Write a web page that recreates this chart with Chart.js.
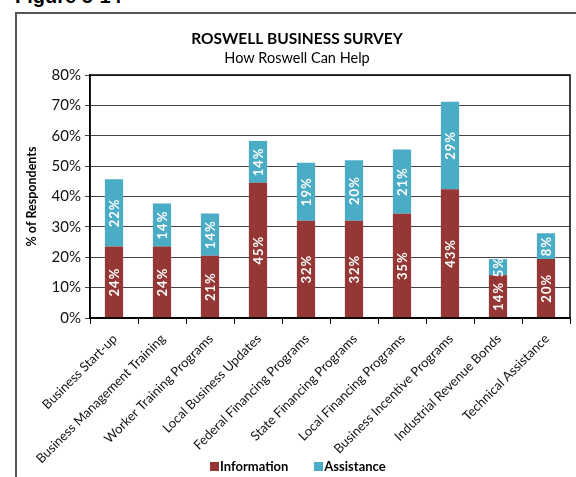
<!DOCTYPE html>
<html>
<head>
<meta charset="utf-8">
<script src="https://cdn.jsdelivr.net/npm/chart.js@4"></script>
<style>
  html, body { margin: 0; padding: 0; background: #fff; }
  body { width: 576px; height: 477px; position: relative; overflow: hidden; font-family: Lato, sans-serif; }
  .fig { position: absolute; left: 15px; top: -15px; font: bold 20px "Liberation Sans", Arial, sans-serif; color: #000; }
  .frame { position: absolute; left: 15px; top: 12px; width: 620px; height: 520px; border: 2px solid #555; box-sizing: border-box; }
  #chart { position: absolute; left: 0; top: 0; }
  .legend { position: absolute; left: 210px; top: 458px; display: flex; font: bold 13px Lato, sans-serif; color: #000; line-height: 16px; }
  .legend span { display: flex; align-items: center; margin-right: 26px; }
  .legend i { display: inline-block; width: 9px; height: 9px; margin-right: 1px; }
</style>
</head>
<body>
<div class="fig">Figure 5-14</div>
<div class="frame"></div>
<canvas id="chart" width="576" height="477"></canvas>
<div class="legend" id="legend"></div>
<script>
// Categories and values
const categories = [
    'Business Start-up', 'Business Management Training', 'Worker Training Programs',
    'Local Business Updates', 'Federal Financing Programs', 'State Financing Programs',
    'Local Financing Programs', 'Business Incentive Programs', 'Industrial Revenue Bonds',
    'Technical Assistance'
];
const information = [23.5, 23.5, 20.5, 44.5, 32, 32, 34.3, 42.4, 14.1, 19.4];
const assistance = [22.2, 14.2, 13.9, 13.8, 19.1, 19.9, 21.2, 28.8, 5.3, 8.5];
// printed labels on the bars
const informationLabels = [24, 24, 21, 45, 32, 32, 35, 43, 14, 20];
const assistanceLabels = [22, 14, 14, 14, 19, 20, 21, 29, 5, 8];
const yTicks = [0, 10, 20, 30, 40, 50, 60, 70, 80];

const FONT = 'Lato, "Open Sans", sans-serif';

// Rotated white labels inside each bar segment
const barLabels = {
    id: 'barLabels',
    afterDatasetsDraw(chart) {
        const ctx = chart.ctx;
        chart.data.datasets.forEach((ds, i) => {
            const meta = chart.getDatasetMeta(i);
            meta.data.forEach((bar, j) => {
                const p = bar.getProps(['x', 'y', 'base'], true);
                ctx.save();
                ctx.translate(p.x + 1, (p.y + p.base) / 2);
                ctx.rotate(-Math.PI / 2);
                ctx.fillStyle = '#fff';
                ctx.font = 'bold 13px ' + FONT;
                ctx.letterSpacing = '1px';
                ctx.textAlign = 'center';
                ctx.textBaseline = 'middle';
                ctx.fillText(ds.barText[j] + '%', 0, 0);
                ctx.restore();
            });
        });
    }
};

// Black box round the plot area
const plotBorder = {
    id: 'plotBorder',
    afterDraw(chart) {
        const a = chart.chartArea;
        const ctx = chart.ctx;
        ctx.save();
        ctx.strokeStyle = '#000';
        ctx.lineWidth = 1.5;
        ctx.strokeRect(a.left, a.top, a.right - a.left, a.bottom - a.top);
        ctx.restore();
    }
};

const chart = new Chart(document.getElementById('chart').getContext('2d'), {
    type: 'bar',
    data: {
        labels: categories,
        datasets: [{
            label: 'Information',
            data: information,
            barText: informationLabels,
            backgroundColor: '#953735',
            barPercentage: 0.38,
            categoryPercentage: 1
        }, {
            label: 'Assistance',
            data: assistance,
            barText: assistanceLabels,
            backgroundColor: '#4BACC6',
            barPercentage: 0.38,
            categoryPercentage: 1
        }]
    },
    options: {
        responsive: false,
        animation: false,
        layout: { padding: { left: 24, right: 6, top: 0, bottom: 0 } },
        plugins: {
            title: {
                display: true,
                text: 'ROSWELL BUSINESS SURVEY',
                color: '#000',
                font: { family: FONT, size: 15.5, weight: 'bold' },
                padding: { top: 30, bottom: 1 }
            },
            subtitle: {
                display: true,
                text: 'How Roswell Can Help',
                color: '#000',
                font: { family: FONT, size: 14.5 },
                padding: { top: 0, bottom: 8 }
            },
            legend: { display: false },
            tooltip: { enabled: false }
        },
        scales: {
            x: {
                stacked: true,
                grid: { offset: true, drawOnChartArea: false, tickLength: 6, color: '#000' },
                border: { color: '#000', width: 1.5 },
                ticks: {
                    maxRotation: 45,
                    minRotation: 45,
                    autoSkip: false,
                    padding: 7,
                    labelOffset: 1,
                    color: '#111',
                    font: { family: FONT, size: 13 }
                },
                afterFit(scale) { scale.height = 159; }
            },
            y: {
                stacked: true,
                min: 0,
                max: 80,
                afterBuildTicks(scale) { scale.ticks = yTicks.map(v => ({ value: v })); },
                grid: { color: '#444', lineWidth: 1, tickLength: 5 },
                border: { color: '#000', width: 1.5 },
                ticks: {
                    color: '#111',
                    padding: 4,
                    font: { family: FONT, size: 15 },
                    callback: v => v + '%'
                },
                title: {
                    display: true,
                    text: '% of Respondents',
                    color: '#000',
                    font: { family: FONT, size: 12.5, weight: 'bold' },
                    padding: 0
                },
                afterFit(scale) { scale.width = 66; }
            }
        }
    },
    plugins: [barLabels, plotBorder]
});

// HTML legend built from the datasets
document.getElementById('legend').innerHTML = chart.data.datasets.map(ds =>
    '<span><i style="background:' + ds.backgroundColor + '"></i>' + ds.label + '</span>'
).join('');
</script>
</body>
</html>
